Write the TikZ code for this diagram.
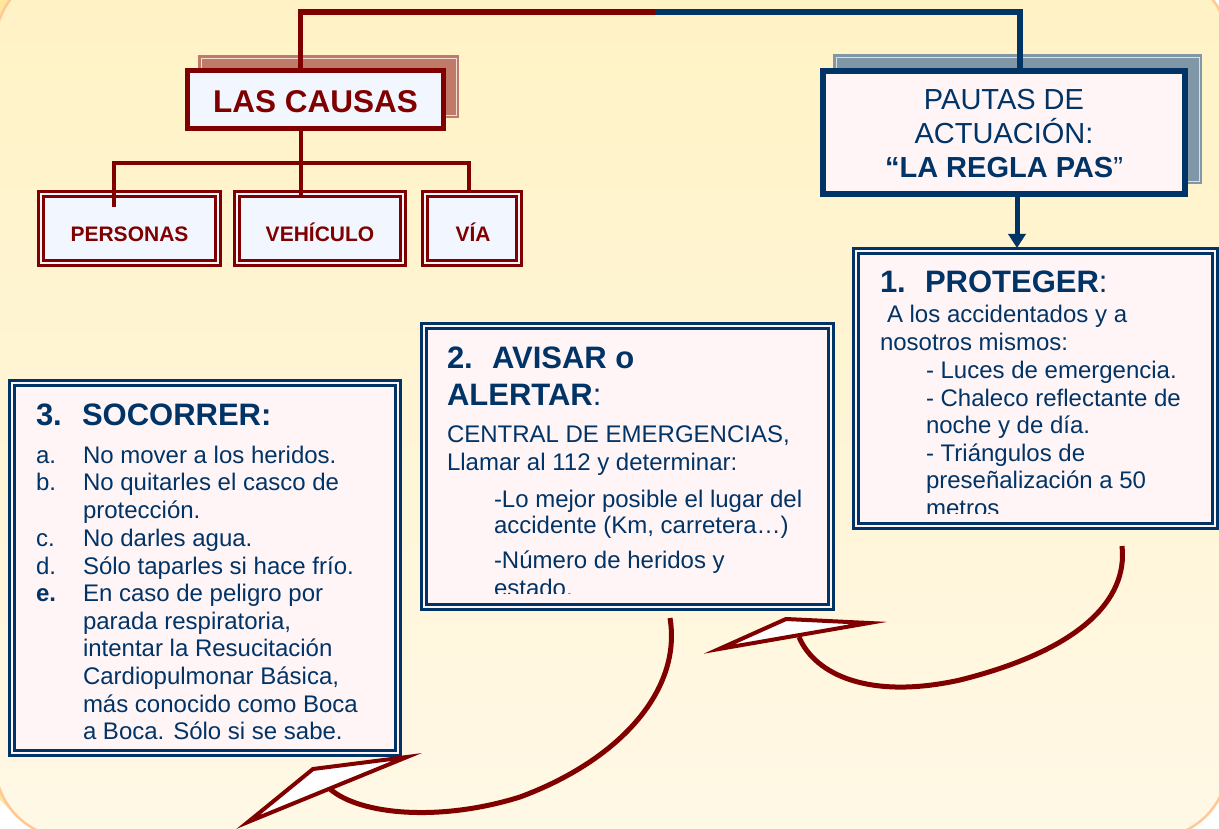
\documentclass[tikz,border=0pt]{standalone}
\usepackage{fontspec}
\setmainfont{Liberation Sans}
\usetikzlibrary{arrows.meta,calc}
\definecolor{dred}{HTML}{800000}
\definecolor{dblue}{HTML}{003366}
\definecolor{bgtop}{HTML}{FFF2C4}
\definecolor{bgbot}{HTML}{FFF8E6}
\definecolor{bgborder}{HTML}{FFC896}
\definecolor{bgyellow}{HTML}{FFE898}
\definecolor{pinkfill}{HTML}{FFF5F7}
\definecolor{bluefill}{HTML}{F2F7FF}
\definecolor{redshadow}{HTML}{C07A68}
\definecolor{blueshadow}{HTML}{8097A8}
\begin{document}
\begin{tikzpicture}[x=1pt,y=-1pt,
  redbox/.style={draw=dred,line width=2.8pt,double=bluefill,double distance=2.2pt,fill=bluefill,inner sep=0pt,outer sep=0pt},
  bluebox/.style={draw=dblue,line width=3pt,double=pinkfill,double distance=2pt,fill=pinkfill,inner sep=0pt,outer sep=0pt},
  shadowbox/.style={inner sep=0pt,outer sep=0pt},
  txt/.style={anchor=base west,inner sep=0pt,outer sep=0pt,text=dblue,font=\fontsize{24pt}{28pt}\selectfont},
  hd/.style={anchor=base west,inner sep=0pt,outer sep=0pt,text=dblue,font=\fontsize{31pt}{37pt}\selectfont\bfseries},
  rtxt/.style={anchor=base,inner sep=0pt,outer sep=0pt,text=dred,font=\fontsize{21pt}{25pt}\selectfont\bfseries},
  ptxt/.style={anchor=base,inner sep=0pt,outer sep=0pt,text=dblue,font=\fontsize{29pt}{34pt}\selectfont},
  tree/.style={dred,line width=4.5pt},
  topline/.style={line width=5.5pt},
  curv/.style={dred,line width=5pt},
  headtri/.style={draw=dred,fill=white,line width=4pt,line join=miter},
]
\useasboundingbox (0,0) rectangle (1219,829);
% background
\begin{scope}
\clip (0,0) rectangle (1219,829);
\fill[white] (0,0) rectangle (1219,829);
\fill[bgyellow,rounded corners=75pt] (-18,-30) rectangle (1210,826);
\shade[top color=bgtop,bottom color=bgbot] [rounded corners=75pt] (-5,-30) rectangle (1228,838);
\draw[bgborder,line width=2.5pt,rounded corners=75pt] (-5,-30) rectangle (1228,838);
\end{scope}

% shadows
\node[shadowbox,fill=redshadow,minimum width=261pt,minimum height=63pt] (cshadow) at (328.5,86.5) {};
\draw[white!75!redshadow,line width=0.8pt] ($(cshadow.north west)+(3,3)$) rectangle ($(cshadow.south east)+(-3,-3)$);
\node[shadowbox,fill=blueshadow,minimum width=369pt,minimum height=130pt] (pshadow) at (1017.5,119) {};
\draw[white!70!blueshadow,line width=0.8pt] ($(pshadow.north west)+(3,3)$) rectangle ($(pshadow.south east)+(-3,-3)$);

% main title boxes
\node[draw=dred,line width=5pt,fill=bluefill,minimum width=256pt,minimum height=58pt,inner sep=0pt,outer sep=0pt] (causas) at (315.5,99.5) {};
\node[anchor=base,inner sep=0pt,text=dred,font=\fontsize{31.5pt}{36pt}\selectfont\bfseries] (tcausas) at (315.5,113) {LAS CAUSAS};

\node[draw=dblue,line width=6pt,fill=pinkfill,minimum width=362pt,minimum height=123pt,inner sep=0pt,outer sep=0pt] (pautas) at (1004,132.5) {};
\node[ptxt] (tp1) at (1004,110) {PAUTAS DE};
\node[ptxt] (tp2) at (1004,143.5) {ACTUACIÓN:};
\node[ptxt] (tp3) at (1004,178) {\textbf{“LA REGLA PAS}”};

% cause boxes
\node[redbox,minimum width=177pt,minimum height=69pt] (pers) at (129.5,228.5) {};
\node[redbox,minimum width=166pt,minimum height=69pt] (veh) at (320,228.5) {};
\node[redbox,minimum width=94pt,minimum height=69pt] (via) at (472,228.5) {};
\node[rtxt] (tpers) at (129.5,242) {PERSONAS};
\node[rtxt] (tveh) at (320,242) {VEHÍCULO};
\node[rtxt] (tvia) at (473,242) {VÍA};

% step boxes
\node[bluebox,minimum width=359pt,minimum height=275pt] (prot) at (1035.5,388.5) {};
\node[bluebox,minimum width=407pt,minimum height=281pt] (avis) at (627.5,466.5) {};
\node[bluebox,minimum width=386pt,minimum height=370pt] (soc) at (205,568) {};

% connectors
\coordinate (mid) at (655,11.8);
\draw[topline,dred] ($(causas.north)+(-15,0)$) |- (mid);
\draw[topline,dblue] (mid) -| ($(pautas.north)+(16,0)$);
\coordinate (bus) at (301,163);
\draw[tree] ($(pers.north)+(-15.5,13)$) |- (bus) -| ($(via.north)+(-3,-1)$);
\draw[tree] ($(causas.south)+(-14.5,0)$) -- ($(veh.north)+(-19,3)$);
\draw[dblue,line width=5pt,-{Triangle[width=17pt,length=14pt]}] ($(pautas.south)+(13,0)$) -- ($(prot.north)+(-18.5,-3)$);

% PROTEGER text
\begin{scope}
\clip (860,255) rectangle (1212,513);
\node[hd] (h1a) at (880,293) {1.};
\node[hd] (h1b) at (925,293) {PROTEGER\mdseries:};
\node[txt] (p1) at (887,323) {A los accidentados y a};
\node[txt] (p2) at (880,350) {nosotros mismos:};
\node[txt] (p3) at (926,378) {- Luces de emergencia.};
\node[txt] (p4) at (926,406) {- Chaleco reflectante de};
\node[txt] (p5) at (926,433) {noche y de día.};
\node[txt] (p6) at (926,461) {- Triángulos de};
\node[txt] (p7) at (926,488) {preseñalización a 50};
\node[txt] (p8) at (926,516) {metros};
\end{scope}

% AVISAR text
\begin{scope}
\clip (430,330) rectangle (828,593.5);
\node[hd] (h2a) at (447,368) {2.};
\node[hd] (h2b) at (492,368) {AVISAR o};
\node[hd] (h2c) at (447,405) {ALERTAR\mdseries:};
\node[txt] (a1) at (447,442) {CENTRAL DE EMERGENCIAS,};
\node[txt] (a2) at (447,470) {Llamar al 112 y determinar:};
\node[txt] (a3) at (494,507) {-Lo mejor posible el lugar del};
\node[txt] (a4) at (494,533) {accidente (Km, carretera…)};
\node[txt] (a5) at (494,568) {-Número de heridos y};
\node[txt] (a6) at (494,596) {estado.};
\end{scope}

% SOCORRER text
\node[hd] (h3a) at (36,425) {3.};
\node[hd] (h3b) at (82,425) {SOCORRER:};
\node[txt] (la) at (36,463) {a.};
\node[txt] (lb) at (36,490.5) {b.};
\node[txt] (lc) at (36,546) {c.};
\node[txt] (ld) at (36,574) {d.};
\node[txt,font=\fontsize{24pt}{28pt}\selectfont\bfseries] (le) at (36,601) {e.};
\node[txt] (s1) at (83,463) {No mover a los heridos.};
\node[txt] (s2) at (83,490.5) {No quitarles el casco de};
\node[txt] (s3) at (83,518) {protección.};
\node[txt] (s4) at (83,546) {No darles agua.};
\node[txt] (s5) at (83,574) {Sólo taparles si hace frío.};
\node[txt] (s6) at (83,601) {En caso de peligro por};
\node[txt] (s7) at (83,629) {parada respiratoria,};
\node[txt] (s8) at (83,656.5) {intentar la Resucitación};
\node[txt] (s9) at (83,684) {Cardiopulmonar Básica,};
\node[txt] (s10) at (83,712) {más conocido como Boca};
\node[txt] (s11) at (83,739.5) {a Boca. Sólo si se sabe.};

% curved arrows
\coordinate (c1s) at ($(prot.south)+(86.5,20)$);
\coordinate (c1e) at (799,637);
\draw[curv] (c1s) .. controls (1128,600) and (1080,650) .. (960,680) .. controls (870,700) and (815,675) .. (c1e);
\draw[headtri] (719,649) -- (786,619) -- (869,623) -- cycle;
\coordinate (c2s) at ($(avis.south)+(42.5,11)$);
\coordinate (c2e) at (330,789);
\draw[curv] (c2s) .. controls (682,690) and (620,760) .. (520,797) .. controls (440,822) and (360,815) .. (c2e);
\draw[headtri] (248,822) -- (313,769) -- (407,757) -- cycle;
\end{tikzpicture}
\end{document}
